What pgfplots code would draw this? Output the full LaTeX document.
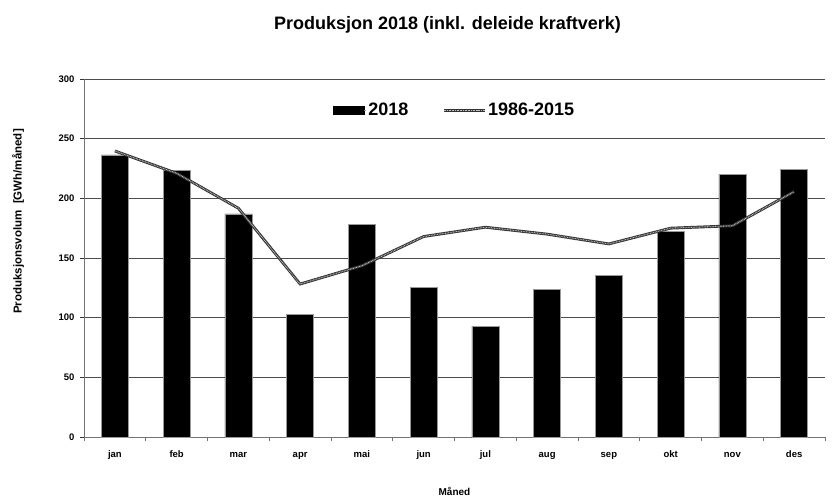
\documentclass[border=0pt]{standalone}
\usepackage{pgfplots}
\pgfplotsset{compat=1.18}
\usepackage{fontspec}
\setmainfont{Liberation Sans}
\begin{document}
\begin{tikzpicture}
\path[use as bounding box] (-84bp,-60bp) rectangle (753bp,437bp);
\begin{axis}[
  at={(0,0)}, anchor=south west,
  scale only axis, width=741bp, height=358bp,
  xmin=-0.5, xmax=11.5, ymin=0, ymax=300,
  axis x line*=bottom, axis y line*=left,
  axis line style={draw=black!55, line width=0.8bp, -},
  xtick={0,...,11},
  xticklabels={jan,feb,mar,apr,mai,jun,jul,aug,sep,okt,nov,des},
  minor xtick={-0.5,0.5,...,11.5},
  xtick style={draw=none},
  minor x tick style={draw=black!55, line width=0.8bp},
  minor tick length=4bp,
  ytick={0,50,...,300},
  ytick style={draw=black!80, line width=0.8bp},
  major tick length=4bp,
  tick align=outside,
  ymajorgrids,
  grid style={draw=black!70, line width=0.8bp},
  ticklabel style={font=\fontsize{9.5bp}{11bp}\selectfont\bfseries},
  /pgf/number format/assume math mode=true,
  xticklabel style={anchor=base, yshift=-16bp},
  yticklabel style={xshift=-2bp},
  legend style={at={(0.5,0.913)}, anchor=center, draw=none, fill=none,
    legend columns=2, font=\fontsize{18bp}{20bp}\selectfont\bfseries,
    /tikz/every even column/.append style={column sep=32bp},
    inner sep=0pt},
  clip=false,
]
\addplot[ybar, bar width=27bp, fill=black, draw=black!40, line width=0.5bp,
  legend image code/.code={\fill[black] (0bp,-3.8bp) rectangle (31bp,3.8bp);
    \path (31bp,0bp) -- (33bp,0bp);}]
  coordinates {(0,236.4) (1,223.3) (2,187) (3,102.8) (4,178.3) (5,125.5)
   (6,93) (7,123.8) (8,135.2) (9,172) (10,220.2) (11,224.4)};
\addlegendentry{2018}
\addplot[sharp plot, draw=black!80, line width=2.8bp,
  postaction={draw=black!25, line width=1bp, dash pattern=on 0.8bp off 0.8bp},
  legend image code/.code={
   \draw[draw=black!80, line width=2.8bp] (0bp,0bp) -- (34bp,0bp);
   \draw[draw=black!25, line width=1bp, dash pattern=on 0.8bp off 0.8bp] (0bp,0bp) -- (34bp,0bp);
   \path (34bp,0bp) -- (41bp,0bp);}]
  coordinates {(0,239.7) (1,221) (2,191.7) (3,128.2) (4,143.5) (5,168)
   (6,175.8) (7,170) (8,161.8) (9,175) (10,177) (11,205.6)};
\addlegendentry{1986-2015}
\node[font=\fontsize{18bp}{21bp}\selectfont\bfseries, anchor=base] at ([xshift=-7bp, yshift=49bp]rel axis cs:0.5,1) {Produksjon 2018 (inkl. deleide kraftverk)};
\node[font=\fontsize{11.5bp}{13bp}\selectfont\bfseries, rotate=90] at ([xshift=-66bp]rel axis cs:0,0.602) {Produksjonsvolum\ \ [GWh/måned]};
\node[font=\fontsize{10bp}{12bp}\selectfont\bfseries, anchor=base] at ([yshift=-58bp]rel axis cs:0.5,0) {Måned};
\end{axis}
\end{tikzpicture}
\end{document}
